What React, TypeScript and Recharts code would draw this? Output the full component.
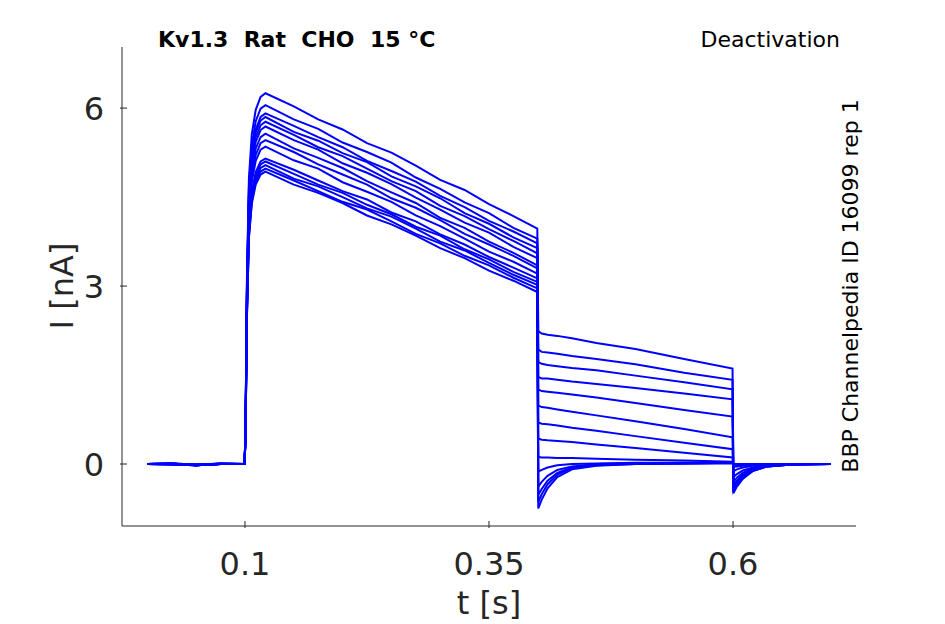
import { LineChart, Line, XAxis, YAxis } from "recharts";

const INK = "#262626";
const TRACE_COLOR = "#0000ff";

// sample times [s]
const T = [
  0, 0.025, 0.05, 0.075, 0.0995,
  0.1005, 0.102, 0.104, 0.107, 0.111, 0.116, 0.121,
  0.15, 0.175, 0.2, 0.225, 0.25, 0.275, 0.3, 0.325, 0.35, 0.375, 0.3995,
  0.4005, 0.404, 0.41, 0.42, 0.435, 0.46, 0.5, 0.55, 0.5995,
  0.6005, 0.604, 0.61, 0.62, 0.635, 0.66, 0.7,
];

// currents [nA], one sweep per array, aligned with T
const SWEEP_1 = [
  0.0, 0.01, -0.02, 0.0, 0.0,
  0.5, 3.13, 4.81, 5.56, 5.97, 6.19, 6.25,
  6.03, 5.81, 5.64, 5.41, 5.25, 5.03, 4.79, 4.62, 4.38, 4.18, 3.97,
  2.24, 2.2, 2.18, 2.16, 2.12, 2.04, 1.94, 1.77, 1.61,
  -0.49, -0.38, -0.25, -0.12, -0.04, -0.01, 0.0,
];
const SWEEP_2 = [
  0.0, -0.01, -0.02, 0.01, 0.0,
  0.48, 3.03, 4.66, 5.38, 5.78, 5.99, 6.05,
  5.81, 5.65, 5.42, 5.26, 5.08, 4.83, 4.64, 4.41, 4.23, 3.98, 3.8,
  1.93, 1.89, 1.88, 1.86, 1.82, 1.77, 1.68, 1.54, 1.42,
  -0.46, -0.36, -0.23, -0.12, -0.04, -0.01, 0.0,
];
const SWEEP_3 = [
  0.0, 0.01, -0.01, 0.0, 0.0,
  0.47, 2.96, 4.55, 5.26, 5.64, 5.85, 5.91,
  5.7, 5.51, 5.34, 5.11, 4.94, 4.76, 4.52, 4.33, 4.1, 3.92, 3.72,
  1.72, 1.69, 1.67, 1.65, 1.62, 1.58, 1.49, 1.38, 1.26,
  -0.43, -0.34, -0.22, -0.11, -0.04, -0.01, 0.0,
];
const SWEEP_4 = [
  0.0, 0.0, -0.02, 0.01, 0.0,
  0.47, 2.93, 4.5, 5.21, 5.59, 5.79, 5.85,
  5.6, 5.45, 5.24, 5.09, 4.85, 4.68, 4.48, 4.23, 4.05, 3.82, 3.64,
  1.47, 1.44, 1.44, 1.42, 1.39, 1.35, 1.28, 1.19, 1.09,
  -0.4, -0.31, -0.2, -0.1, -0.04, -0.01, 0.0,
];
const SWEEP_5 = [
  0.0, 0.01, -0.02, 0.0, 0.0,
  0.46, 2.89, 4.44, 5.14, 5.51, 5.71, 5.77,
  5.55, 5.34, 5.19, 4.98, 4.77, 4.6, 4.35, 4.18, 3.96, 3.76, 3.55,
  1.26, 1.23, 1.22, 1.2, 1.17, 1.12, 1.03, 0.91, 0.8,
  -0.36, -0.28, -0.18, -0.09, -0.03, -0.01, 0.0,
];
const SWEEP_6 = [
  0.0, -0.01, -0.02, 0.0, 0.0,
  0.46, 2.85, 4.38, 5.06, 5.43, 5.63, 5.69,
  5.46, 5.3, 5.07, 4.91, 4.72, 4.49, 4.29, 4.07, 3.9, 3.66, 3.47,
  0.99, 0.96, 0.95, 0.92, 0.88, 0.82, 0.72, 0.59, 0.45,
  -0.3, -0.23, -0.15, -0.08, -0.03, -0.01, 0.0,
];
const SWEEP_7 = [
  0.0, 0.0, -0.01, 0.01, 0.0,
  0.45, 2.79, 4.29, 4.96, 5.32, 5.51, 5.57,
  5.32, 5.16, 4.99, 4.77, 4.58, 4.4, 4.15, 3.98, 3.75, 3.56, 3.35,
  0.7, 0.68, 0.67, 0.65, 0.61, 0.56, 0.47, 0.36, 0.25,
  -0.22, -0.17, -0.11, -0.06, -0.02, 0.0, 0.0,
];
const SWEEP_8 = [
  0.0, 0.01, -0.02, 0.0, 0.0,
  0.44, 2.73, 4.2, 4.86, 5.21, 5.41, 5.46,
  5.26, 5.05, 4.88, 4.71, 4.48, 4.32, 4.11, 3.88, 3.7, 3.51, 3.3,
  0.43, 0.41, 0.4, 0.39, 0.37, 0.33, 0.27, 0.19, 0.11,
  -0.12, -0.09, -0.06, -0.03, -0.01, 0.0, 0.0,
];
const SWEEP_9 = [
  0.0, -0.01, -0.02, 0.0, 0.0,
  0.43, 2.68, 4.12, 4.76, 5.11, 5.3, 5.35,
  5.12, 4.98, 4.75, 4.59, 4.42, 4.19, 4.01, 3.8, 3.58, 3.41, 3.21,
  0.12, 0.11, 0.11, 0.1, 0.1, 0.09, 0.07, 0.06, 0.04,
  -0.05, -0.04, -0.03, -0.01, 0.0, 0.0, 0.0,
];
const SWEEP_10 = [
  0.0, 0.01, -0.01, 0.0, 0.0,
  0.41, 2.58, 3.97, 4.58, 4.92, 5.1, 5.15,
  4.96, 4.78, 4.6, 4.46, 4.24, 4.09, 3.87, 3.7, 3.49, 3.31, 3.13,
  -0.13, -0.1, -0.06, -0.02, 0.0, 0.01, 0.02, 0.02, 0.02,
  0.0, -0.01, 0.0, 0.0, 0.0, 0.0, 0.0,
];
const SWEEP_11 = [
  0.0, 0.0, -0.02, 0.01, 0.0,
  0.41, 2.55, 3.93, 4.54, 4.87, 5.05, 5.1,
  4.89, 4.71, 4.57, 4.37, 4.21, 4.0, 3.85, 3.62, 3.45, 3.24, 3.07,
  -0.38, -0.3, -0.2, -0.1, -0.04, 0.0, 0.01, 0.02, 0.02,
  0.0, -0.01, 0.0, 0.0, 0.0, 0.0, 0.0,
];
const SWEEP_12 = [
  0.0, 0.01, -0.02, 0.0, 0.0,
  0.4, 2.52, 3.88, 4.49, 4.81, 4.99, 5.04,
  4.81, 4.68, 4.5, 4.31, 4.17, 3.97, 3.75, 3.6, 3.39, 3.19, 3.02,
  -0.52, -0.42, -0.28, -0.15, -0.06, -0.01, 0.01, 0.01, 0.02,
  0.0, -0.01, 0.0, 0.0, 0.0, 0.0, 0.0,
];
const SWEEP_13 = [
  0.0, -0.01, -0.02, 0.0, 0.0,
  0.4, 2.49, 3.83, 4.43, 4.76, 4.93, 4.98,
  4.78, 4.6, 4.42, 4.29, 4.09, 3.88, 3.72, 3.51, 3.35, 3.14, 2.96,
  -0.64, -0.51, -0.34, -0.18, -0.07, -0.02, 0.0, 0.01, 0.02,
  0.0, -0.01, 0.0, 0.0, 0.0, 0.0, 0.0,
];
const SWEEP_14 = [
  0.0, 0.0, -0.01, 0.0, 0.0,
  0.39, 2.47, 3.8, 4.39, 4.71, 4.88, 4.93,
  4.71, 4.57, 4.4, 4.19, 4.04, 3.85, 3.64, 3.47, 3.26, 3.09, 2.9,
  -0.75, -0.6, -0.41, -0.22, -0.09, -0.03, 0.0, 0.01, 0.01,
  0.0, -0.01, 0.0, 0.0, 0.0, 0.0, 0.0,
];

const SWEEPS = [
  SWEEP_1, SWEEP_2, SWEEP_3, SWEEP_4, SWEEP_5, SWEEP_6, SWEEP_7,
  SWEEP_8, SWEEP_9, SWEEP_10, SWEEP_11, SWEEP_12, SWEEP_13, SWEEP_14,
];

const X_TICKS = [0.1, 0.35, 0.6];
const Y_TICKS = [0, 3, 6];

const data = T.map((t, i) => {
  const row: Record<string, number> = { t };
  SWEEPS.forEach((s, k) => {
    row[`s${k}`] = s[i];
  });
  return row;
});

function YTick({ x, y, payload }: any) {
  return (
    <g>
      <line x1={x} x2={x + 7} y1={y} y2={y} stroke={INK} />
      <text x={x - 16} y={y + 12} textAnchor="end" fontSize={32} fill={INK}>
        {payload.value}
      </text>
    </g>
  );
}

function XTick({ x, y, payload }: any) {
  return (
    <g>
      <line x1={x} x2={x} y1={y} y2={y - 7} stroke={INK} />
      <text x={x} y={y + 47} textAnchor="middle" fontSize={32} fill={INK}>
        {payload.value}
      </text>
    </g>
  );
}

export default function App() {
  return (
    <div
      style={{
        position: "absolute",
        left: 0,
        top: 0,
        width: 945,
        height: 624,
        background: "#fff",
        fontFamily: "'DejaVu Sans', sans-serif",
      }}
    >
      <LineChart
        width={945}
        height={624}
        data={data}
        margin={{ top: 47, right: 89, left: 0, bottom: 0 }}
      >
        <XAxis
          dataKey="t"
          type="number"
          domain={[-0.026, 0.726]}
          ticks={X_TICKS}
          interval={0}
          allowDataOverflow
          height={98}
          tickSize={0}
          tickLine={false}
          axisLine={{ stroke: INK }}
          tick={XTick}
        />
        <YAxis
          type="number"
          domain={[-1.045, 7.03]}
          ticks={Y_TICKS}
          interval={0}
          allowDataOverflow
          width={122}
          tickSize={0}
          tickLine={false}
          axisLine={{ stroke: INK }}
          tick={YTick}
        />
        {SWEEPS.map((_, k) => (
          <Line
            key={k}
            type="linear"
            dataKey={`s${k}`}
            stroke={TRACE_COLOR}
            strokeWidth={2}
            dot={false}
            activeDot={false}
            isAnimationActive={false}
          />
        ))}
      </LineChart>
      <svg
        width={945}
        height={624}
        style={{ position: "absolute", left: 0, top: 0, pointerEvents: "none" }}
      >
        <text x={158} y={47} fontSize={22} fontWeight="bold" fill="#000" style={{ whiteSpace: "pre" }}>
          {"Kv1.3  Rat  CHO  15 °C"}
        </text>
        <text x={840} y={47} fontSize={22} textAnchor="end" fill="#000">
          Deactivation
        </text>
        <text
          transform="translate(858 286) rotate(-90)"
          fontSize={22}
          textAnchor="middle"
          fill="#000"
        >
          BBP Channelpedia ID 16099 rep 1
        </text>
        <text x={489} y={614} fontSize={32} textAnchor="middle" fill={INK}>
          t [s]
        </text>
        <text transform="translate(73 286) rotate(-90)" fontSize={32} textAnchor="middle" fill={INK}>
          I [nA]
        </text>
      </svg>
    </div>
  );
}
